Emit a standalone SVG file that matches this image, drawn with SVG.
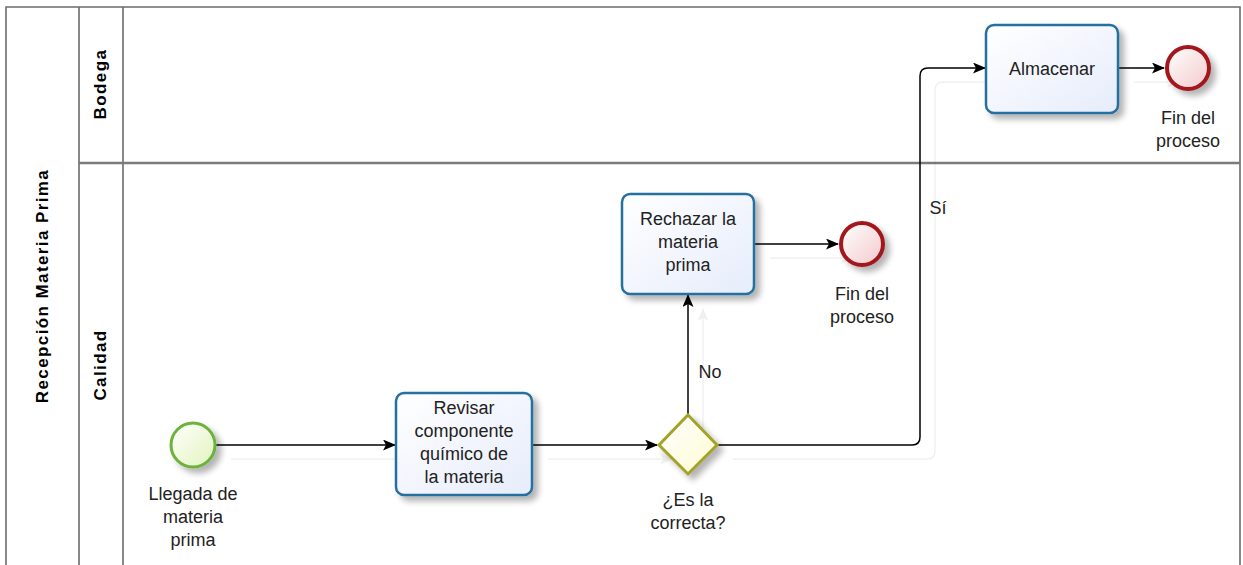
<svg xmlns="http://www.w3.org/2000/svg" width="1243" height="565" viewBox="0 0 1243 565">
  <style>
    .frame { fill: none; stroke: #6b6b6b; stroke-width: 1.6; }
    .divider { fill: none; stroke: #7a7a7a; stroke-width: 2.4; }
    .pool { font-family: "Liberation Sans", Arial, sans-serif; font-weight: bold; font-size: 17px; letter-spacing: 1.4px; fill: #000; text-anchor: middle; }
    .lbl { font-family: "Liberation Sans", Arial, sans-serif; font-size: 18px; fill: #222; text-anchor: middle; }
    .task { fill: url(#taskFill); stroke: #25709f; stroke-width: 2.5; }
    .start { fill: url(#startFill); stroke: #6cb23a; stroke-width: 3; }
    .end { fill: url(#endFill); stroke: #a3191c; stroke-width: 4; }
    .gw { fill: url(#gwFill); stroke: #a3a32a; stroke-width: 3; }
    .flow { fill: none; stroke: #000; stroke-width: 1.5; marker-end: url(#arrow); }
  </style>
  <defs>
    <linearGradient id="taskFill" x1="0" y1="0" x2="1" y2="1">
      <stop offset="0" stop-color="#ffffff"/>
      <stop offset="1" stop-color="#e6ecfb"/>
    </linearGradient>
    <linearGradient id="startFill" x1="0" y1="0" x2="1" y2="1">
      <stop offset="0" stop-color="#ffffff"/>
      <stop offset="1" stop-color="#e2f3bd"/>
    </linearGradient>
    <linearGradient id="endFill" x1="0" y1="0" x2="1" y2="1">
      <stop offset="0" stop-color="#ffffff"/>
      <stop offset="1" stop-color="#f3c9cb"/>
    </linearGradient>
    <linearGradient id="gwFill" x1="0" y1="0" x2="1" y2="1">
      <stop offset="0" stop-color="#ffffff"/>
      <stop offset="1" stop-color="#fdfbd2"/>
    </linearGradient>
    <filter id="shadow" x="-30%" y="-30%" width="170%" height="170%">
      <feGaussianBlur in="SourceAlpha" stdDeviation="3"/>
      <feOffset dx="5" dy="5" result="b"/>
      <feComponentTransfer><feFuncA type="linear" slope="0.3"/></feComponentTransfer>
      <feMerge><feMergeNode/><feMergeNode in="SourceGraphic"/></feMerge>
    </filter>
    <filter id="lineShadow" x="-10%" y="-10%" width="130%" height="130%">
      <feOffset in="SourceAlpha" dx="15" dy="14"/>
      <feComponentTransfer><feFuncA type="linear" slope="0.06"/></feComponentTransfer>
      <feMerge><feMergeNode/><feMergeNode in="SourceGraphic"/></feMerge>
    </filter>
    <marker id="arrow" viewBox="0 0 13 11" refX="12" refY="5.5" markerWidth="13" markerHeight="11" markerUnits="userSpaceOnUse" orient="auto">
      <path d="M0,0 L13,5.5 L0,11 L3,5.5 z" fill="#000"/>
    </marker>
  </defs>

  <rect x="0" y="0" width="1243" height="565" fill="#fff"/>

  <!-- pool and lanes -->
  <g id="pool">
    <path class="frame" d="M6,565 V7 H1240 V565"/>
    <line class="frame" x1="79" y1="7" x2="79" y2="565"/>
    <line class="frame" x1="123" y1="7" x2="123" y2="565"/>
    <line class="divider" x1="79" y1="163" x2="1240" y2="163"/>
    <text class="pool" transform="translate(48,286) rotate(-90)">Recepción Materia Prima</text>
    <text class="pool" transform="translate(106,84) rotate(-90)">Bodega</text>
    <text class="pool" transform="translate(106,365) rotate(-90)">Calidad</text>
  </g>

  <!-- sequence flows -->
  <g id="connectors">
    <g filter="url(#lineShadow)">
      <path class="flow" d="M216,445 H395"/>
      <path class="flow" d="M533,445 H657"/>
      <path class="flow" d="M688,415 V295"/>
      <path class="flow" d="M718,445 H912 Q920,445 920,437 V76 Q920,68 928,68 H985"/>
      <path class="flow" d="M755,244 H838"/>
      <path class="flow" d="M1119,68 H1164"/>
    </g>
    <text class="lbl" x="710" y="378">No</text>
    <text class="lbl" x="938" y="214">Sí</text>
  </g>

  <g id="start">
    <circle class="start" cx="193" cy="445" r="22" filter="url(#shadow)"/>
    <text class="lbl" x="193" y="500">Llegada de</text>
    <text class="lbl" x="193" y="523">materia</text>
    <text class="lbl" x="193" y="546">prima</text>
  </g>

  <g id="revisar">
    <rect class="task" x="396" y="393" width="136" height="102" rx="8" filter="url(#shadow)"/>
    <text class="lbl" x="464" y="414">Revisar</text>
    <text class="lbl" x="464" y="437">componente</text>
    <text class="lbl" x="464" y="460">químico de</text>
    <text class="lbl" x="464" y="483">la materia</text>
  </g>

  <g id="gateway">
    <path class="gw" d="M688,415 L717,445 L688,474 L659,445 Z" filter="url(#shadow)"/>
    <text class="lbl" x="688" y="506">¿Es la</text>
    <text class="lbl" x="688" y="529">correcta?</text>
  </g>

  <g id="rechazar">
    <rect class="task" x="622" y="194" width="132" height="100" rx="8" filter="url(#shadow)"/>
    <text class="lbl" x="688" y="225">Rechazar la</text>
    <text class="lbl" x="688" y="248">materia</text>
    <text class="lbl" x="688" y="271">prima</text>
  </g>

  <g id="fin-rechazo">
    <circle class="end" cx="862" cy="244" r="21" filter="url(#shadow)"/>
    <text class="lbl" x="862" y="300">Fin del</text>
    <text class="lbl" x="862" y="323">proceso</text>
  </g>

  <g id="almacenar">
    <rect class="task" x="986" y="25" width="132" height="88" rx="8" filter="url(#shadow)"/>
    <text class="lbl" x="1052" y="75">Almacenar</text>
  </g>

  <g id="fin-almacen">
    <circle class="end" cx="1188" cy="68" r="21" filter="url(#shadow)"/>
    <text class="lbl" x="1188" y="124">Fin del</text>
    <text class="lbl" x="1188" y="147">proceso</text>
  </g>
</svg>
